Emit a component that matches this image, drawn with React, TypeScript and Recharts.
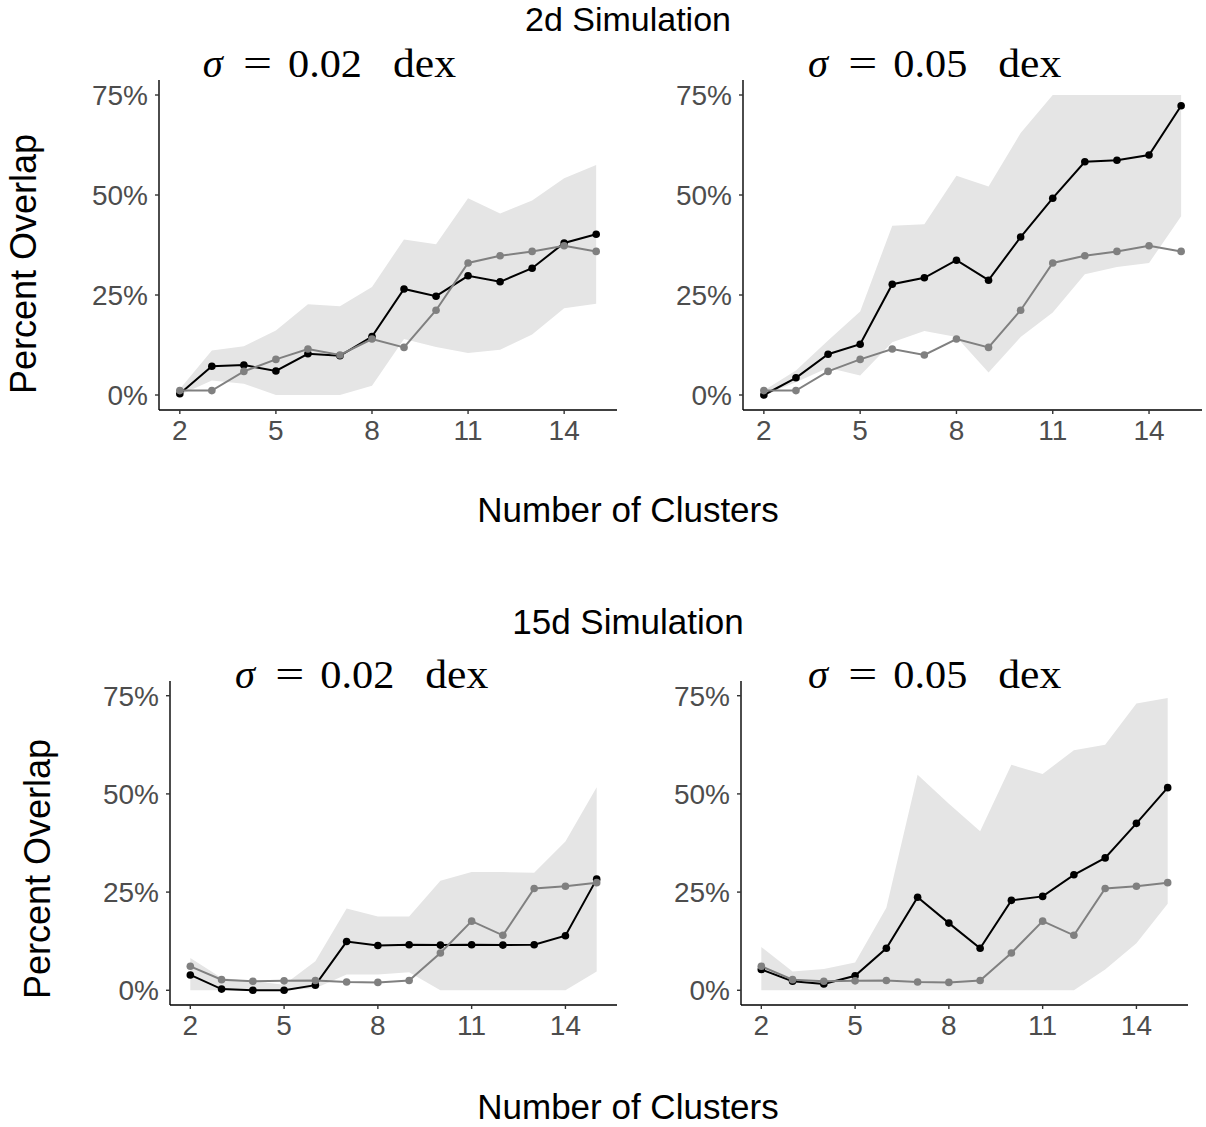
import React from 'react';
import { ComposedChart, Line, Area, XAxis, YAxis } from 'recharts';

// Number of clusters (x categories)
const clusters = [2, 3, 4, 5, 6, 7, 8, 9, 10, 11, 12, 13, 14, 15];
const xTicks = [2, 5, 8, 11, 14];
const yTicks = [0, 25, 50, 75];

// 2d simulation — reference (gray) series
const ref2d = [1.1, 1.1, 5.9, 8.9, 11.5, 10.0, 14.0, 11.9, 21.2, 33.0, 34.8, 35.9, 37.3, 35.9];
// 2d, sigma = 0.02 dex
const sim2d002 = [0.3, 7.2, 7.5, 6.0, 10.3, 9.8, 14.6, 26.5, 24.7, 29.8, 28.3, 31.7, 38.0, 40.2];
const sim2d002Lo = [0, 3.6, 2.8, 0, 0, 0, 2.3, 14.0, 12.0, 10.5, 11.3, 15.1, 21.7, 22.8];
const sim2d002Hi = [1.5, 11.1, 12.2, 16.1, 22.7, 22.2, 27.0, 38.9, 37.7, 49.2, 45.4, 48.6, 54.2, 57.5];
// 2d, sigma = 0.05 dex
const sim2d005 = [0, 4.3, 10.2, 12.7, 27.7, 29.3, 33.7, 28.7, 39.5, 49.2, 58.3, 58.7, 60.0, 72.3];
const sim2d005Lo = [0, 3.2, 6.8, 4.9, 13.2, 16.0, 14.5, 5.6, 14.5, 20.6, 30.2, 32.0, 33.0, 44.7];
const sim2d005Hi = [1.1, 6.1, 13.6, 20.9, 42.3, 42.7, 54.8, 52.1, 65.5, 75, 75, 75, 75, 75];

// 15d simulation — reference (gray) series
const ref15d = [6.1, 2.7, 2.3, 2.4, 2.5, 2.1, 2.0, 2.5, 9.5, 17.6, 14.0, 25.9, 26.5, 27.4];
// 15d, sigma = 0.02 dex
const sim15d002 = [3.9, 0.3, 0, 0, 1.3, 12.4, 11.4, 11.6, 11.5, 11.6, 11.5, 11.6, 13.9, 28.3];
const sim15d002Lo = [0, 0, 0, 0, 0.5, 4.0, 4.0, 4.6, 0, 0, 0, 0, 0, 4.8];
const sim15d002Hi = [8.2, 3.1, 2.3, 1.4, 7.4, 20.8, 18.8, 18.8, 27.9, 30.1, 30.1, 29.9, 37.9, 51.7];
// 15d, sigma = 0.05 dex
const sim15d005 = [5.3, 2.3, 1.6, 3.7, 10.7, 23.7, 17.1, 10.7, 22.9, 23.9, 29.4, 33.7, 42.5, 51.6];
const sim15d005Lo = [0, 0, 0, 0, 0, 0, 0, 0, 0, 0, 0, 5.3, 12.0, 22.0];
const sim15d005Hi = [11.0, 4.8, 5.4, 7.1, 21.0, 54.9, 47.5, 40.5, 57.4, 55.1, 61.1, 62.5, 73.0, 74.4];

const SANS = '"Liberation Sans", Arial, Helvetica, sans-serif';
const SERIF = '"Liberation Serif", "DejaVu Serif", serif';

const YW = 80;
const MT = 10;
const MR = 4;
const XH = 44;

type PanelProps = {
  left: number; top: number; w: number; h: number;
  sim: number[]; lo: number[]; hi: number[]; ref: number[];
};

function Panel({ left, top, w, h, sim, lo, hi, ref }: PanelProps) {
  const data = clusters.map((x, i) => ({ x, sim: sim[i], ref: ref[i], band: [lo[i], hi[i]] }));
  return (
    <div style={{ position: 'absolute', left: left - YW, top: top - MT }}>
      <ComposedChart width={YW + w + MR} height={MT + h + XH} data={data}
        margin={{ top: MT, right: MR, bottom: 0, left: 0 }}>
        <XAxis dataKey="x" type="number" domain={[1.35, 15.65]} allowDataOverflow ticks={xTicks}
          height={XH} tickSize={4} tickMargin={6}
          axisLine={{ stroke: '#000', strokeWidth: 1.4 }}
          tickLine={{ stroke: '#333', strokeWidth: 1.4 }}
          tick={{ fill: '#4D4D4D', fontSize: 28, fontFamily: SANS }} />
        <YAxis type="number" domain={[-3.75, 78.75]} allowDataOverflow ticks={yTicks}
          width={YW} tickSize={4} tickMargin={7}
          tickFormatter={(v: number) => `${v}%`}
          axisLine={{ stroke: '#000', strokeWidth: 1.4 }}
          tickLine={{ stroke: '#333', strokeWidth: 1.4 }}
          tick={{ fill: '#4D4D4D', fontSize: 28, fontFamily: SANS }} />
        <Area dataKey="band" type="linear" stroke="none" fill="#E5E5E5" fillOpacity={1}
          isAnimationActive={false} activeDot={false} />
        <Line dataKey="sim" type="linear" stroke="#000" strokeWidth={2}
          dot={{ r: 3.8, fill: '#000', stroke: 'none' }} activeDot={false} isAnimationActive={false} />
        <Line dataKey="ref" type="linear" stroke="#808080" strokeWidth={2}
          dot={{ r: 3.8, fill: '#808080', stroke: 'none' }} activeDot={false} isAnimationActive={false} />
      </ComposedChart>
    </div>
  );
}

function SigmaTitle({ x, y, value }: { x: number; y: number; value: string }) {
  return (
    <g fontFamily={SERIF} fontSize={40} fill="#000">
      <text x={x} y={y} fontStyle="italic" textLength={20} lengthAdjust="spacingAndGlyphs">σ</text>
      <text x={x + 40.3} y={y} textLength={29} lengthAdjust="spacingAndGlyphs">=</text>
      <text x={x + 85.3} y={y} textLength={74} lengthAdjust="spacingAndGlyphs">{value}</text>
      <text x={x + 190.3} y={y} textLength={63} lengthAdjust="spacingAndGlyphs">dex</text>
    </g>
  );
}

export default function App() {
  return (
    <div style={{ position: 'absolute', left: 0, top: 0, width: 1206, height: 1127, overflow: 'hidden', background: '#fff', fontFamily: SANS }}>
      <svg width={1206} height={1127} style={{ position: 'absolute', left: 0, top: 0 }}>
        <g fontFamily={SANS} fill="#000" textAnchor="middle">
          <text x={628} y={31} fontSize={34}>2d Simulation</text>
          <text x={628} y={634} fontSize={35}>15d Simulation</text>
          <text x={628} y={522} fontSize={35}>Number of Clusters</text>
          <text x={628} y={1119} fontSize={35}>Number of Clusters</text>
          <text transform="translate(36,264) rotate(-90)" fontSize={36}>Percent Overlap</text>
          <text transform="translate(50,869) rotate(-90)" fontSize={36}>Percent Overlap</text>
        </g>
        <SigmaTitle x={202.7} y={77} value="0.02" />
        <SigmaTitle x={808} y={77} value="0.05" />
        <SigmaTitle x={235} y={688} value="0.02" />
        <SigmaTitle x={808} y={688} value="0.05" />
      </svg>
      <Panel left={159} top={80} w={458} h={330} sim={sim2d002} lo={sim2d002Lo} hi={sim2d002Hi} ref={ref2d} />
      <Panel left={743} top={80} w={459} h={330} sim={sim2d005} lo={sim2d005Lo} hi={sim2d005Hi} ref={ref2d} />
      <Panel left={170} top={681} w={447} h={324} sim={sim15d002} lo={sim15d002Lo} hi={sim15d002Hi} ref={ref15d} />
      <Panel left={741} top={681} w={447} h={324} sim={sim15d005} lo={sim15d005Lo} hi={sim15d005Hi} ref={ref15d} />
    </div>
  );
}
